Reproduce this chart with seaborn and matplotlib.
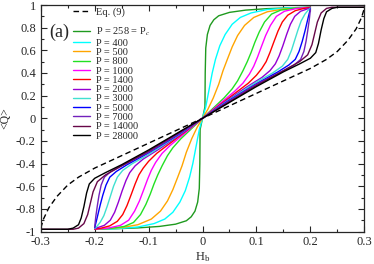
import numpy as np
import pandas as pd
import matplotlib
matplotlib.use("Agg")
import matplotlib.pyplot as plt
import seaborn as sns
from matplotlib.ticker import MultipleLocator, FuncFormatter

# ---- data (positive half, curves are odd-symmetric: Q(-H) = -Q(H)) ----
eq9_h = [0, 0.05, 0.10, 0.15, 0.20, 0.23, 0.25, 0.27, 0.285, 0.295, 0.30]
eq9_q = [0, 0.11, 0.22, 0.33, 0.44, 0.52, 0.59, 0.69, 0.79, 0.89, 0.97]

p258_h = [0, 0.0045, 0.005, 0.006, 0.009, 0.014, 0.021, 0.03, 0.05, 0.08, 0.12, 0.16, 0.20]
p258_q = [0, 0.10, 0.40, 0.62, 0.74, 0.82, 0.87, 0.905, 0.935, 0.955, 0.968, 0.975, 0.98]

p400_h = [0, 0.006, 0.012, 0.018, 0.024, 0.032, 0.042, 0.055, 0.07, 0.09, 0.12, 0.16, 0.20]
p400_q = [0, 0.10, 0.25, 0.40, 0.52, 0.64, 0.74, 0.83, 0.89, 0.93, 0.96, 0.975, 0.98]

p500_h = [0, 0.01, 0.02, 0.03, 0.038, 0.046, 0.055, 0.065, 0.078, 0.095, 0.12, 0.15, 0.20]
p500_q = [0, 0.08, 0.18, 0.30, 0.42, 0.52, 0.63, 0.73, 0.82, 0.89, 0.94, 0.965, 0.98]

p800_h = [0, 0.02, 0.04, 0.055, 0.065, 0.075, 0.083, 0.09, 0.097, 0.105, 0.115, 0.128, 0.145, 0.17, 0.20]
p800_q = [0, 0.09, 0.18, 0.26, 0.33, 0.42, 0.50, 0.58, 0.67, 0.76, 0.85, 0.92, 0.955, 0.972, 0.98]

p1000_h = [0, 0.02, 0.04, 0.06, 0.075, 0.087, 0.095, 0.102, 0.109, 0.117, 0.126, 0.137, 0.152, 0.175, 0.20]
p1000_q = [0, 0.08, 0.16, 0.24, 0.31, 0.39, 0.46, 0.54, 0.63, 0.73, 0.82, 0.90, 0.945, 0.97, 0.98]

p1400_h = [0, 0.03, 0.06, 0.085, 0.10, 0.11, 0.118, 0.125, 0.132, 0.14, 0.148, 0.158, 0.172, 0.188, 0.20]
p1400_q = [0, 0.11, 0.22, 0.31, 0.38, 0.44, 0.50, 0.58, 0.67, 0.77, 0.85, 0.91, 0.95, 0.97, 0.978]

p2000_h = [0, 0.04, 0.08, 0.11, 0.125, 0.135, 0.142, 0.149, 0.156, 0.163, 0.171, 0.182, 0.20]
p2000_q = [0, 0.14, 0.27, 0.36, 0.42, 0.48, 0.55, 0.64, 0.74, 0.83, 0.90, 0.945, 0.975]

p3000_h = [0, 0.05, 0.10, 0.13, 0.148, 0.158, 0.165, 0.171, 0.177, 0.183, 0.19, 0.196, 0.20]
p3000_q = [0, 0.165, 0.32, 0.40, 0.46, 0.52, 0.60, 0.69, 0.78, 0.86, 0.92, 0.955, 0.972]

p5000_h = [0, 0.05, 0.10, 0.14, 0.16, 0.172, 0.179, 0.185, 0.19, 0.194, 0.197, 0.20]
p5000_q = [0, 0.16, 0.305, 0.41, 0.47, 0.52, 0.59, 0.68, 0.77, 0.85, 0.91, 0.965]

p7000_h = [0, 0.05, 0.10, 0.15, 0.17, 0.182, 0.188, 0.192, 0.195, 0.198, 0.20]
p7000_q = [0, 0.155, 0.30, 0.42, 0.47, 0.52, 0.59, 0.68, 0.77, 0.87, 0.96]

p14000_h = [0, 0.05, 0.10, 0.15, 0.18, 0.195, 0.203, 0.208, 0.213, 0.22, 0.23, 0.24, 0.30]
p14000_q = [0, 0.145, 0.29, 0.42, 0.50, 0.56, 0.65, 0.75, 0.85, 0.93, 0.97, 0.98, 0.98]

p28000_h = [0, 0.05, 0.10, 0.15, 0.18, 0.20, 0.21, 0.215, 0.22, 0.225, 0.23, 0.24, 0.25, 0.30]
p28000_q = [0, 0.14, 0.28, 0.41, 0.48, 0.53, 0.58, 0.66, 0.78, 0.88, 0.94, 0.97, 0.98, 0.98]

series = [
    ("P = 258 = P$_c$", p258_h, p258_q, "#1f9a1f"),
    ("P = 400", p400_h, p400_q, "#00ffff"),
    ("P = 500", p500_h, p500_q, "#ffa500"),
    ("P = 800", p800_h, p800_q, "#22e022"),
    ("P = 1000", p1000_h, p1000_q, "#ff00ff"),
    ("P = 1400", p1400_h, p1400_q, "#ff0000"),
    ("P = 2000", p2000_h, p2000_q, "#9400d3"),
    ("P = 3000", p3000_h, p3000_q, "#40e0d0"),
    ("P = 5000", p5000_h, p5000_q, "#0000ff"),
    ("P = 7000", p7000_h, p7000_q, "#7221bc"),
    ("P = 14000", p14000_h, p14000_q, "#670748"),
    ("P = 28000", p28000_h, p28000_q, "#000000"),
]


def full(h, q):
    h = np.asarray(h, float)
    q = np.asarray(q, float)
    return np.concatenate([-h[::-1], h[1:]]), np.concatenate([-q[::-1], q[1:]])


sns.set_style("ticks")
plt.rcParams["font.family"] = ["Liberation Serif", "DejaVu Serif"]
plt.rcParams["axes.unicode_minus"] = False
plt.rcParams["mathtext.fontset"] = "stix"

fig = plt.figure(figsize=(3.74, 2.64), dpi=100)
ax = fig.add_axes([0.109, 0.123, 0.865, 0.858])

x, y = full(eq9_h, eq9_q)
sns.lineplot(x=x, y=y, ax=ax, color="black", lw=1.0, sort=False,
             label="Eq. (9)", linestyle=(0, (4, 2.5)))
ax.plot([], [], color="none", label=" ")
for lab, h, q, c in series:
    x, y = full(h, q)
    sns.lineplot(x=x, y=y, ax=ax, color=c, lw=1.0, sort=False, label=lab)

ax.set_xlim(-0.3, 0.3)
ax.set_ylim(-1, 1)
ax.xaxis.set_major_locator(MultipleLocator(0.1))
ax.xaxis.set_minor_locator(MultipleLocator(0.05))
ax.yaxis.set_major_locator(MultipleLocator(0.2))
ax.yaxis.set_minor_locator(MultipleLocator(0.1))
fmt = FuncFormatter(lambda v, p: ("%g" % round(v, 3)) if abs(v) > 1e-9 else "0")
ax.xaxis.set_major_formatter(fmt)
ax.yaxis.set_major_formatter(fmt)
ax.tick_params(which="both", direction="in", top=True, right=True, labelsize=9, pad=3.5)
ax.tick_params(which="major", length=4.5, width=0.8)
ax.tick_params(which="minor", length=2.5, width=0.8)
for s in ax.spines.values():
    s.set_linewidth(0.9)

ax.set_xlabel("H$_\\mathregular{b}$", fontsize=9, labelpad=1)
ax.set_ylabel("<Q>", fontsize=8.5, labelpad=3)
ax.text(0.026, 0.858, "(a)", transform=ax.transAxes, fontsize=13)

leg = ax.legend(loc="upper left", bbox_to_anchor=(0.0996, 0.991), frameon=False,
                fontsize=7.5, handlelength=1.63, handletextpad=0.58,
                labelspacing=0.0, borderaxespad=0, borderpad=0)

fig.savefig("out.png", dpi=100)
